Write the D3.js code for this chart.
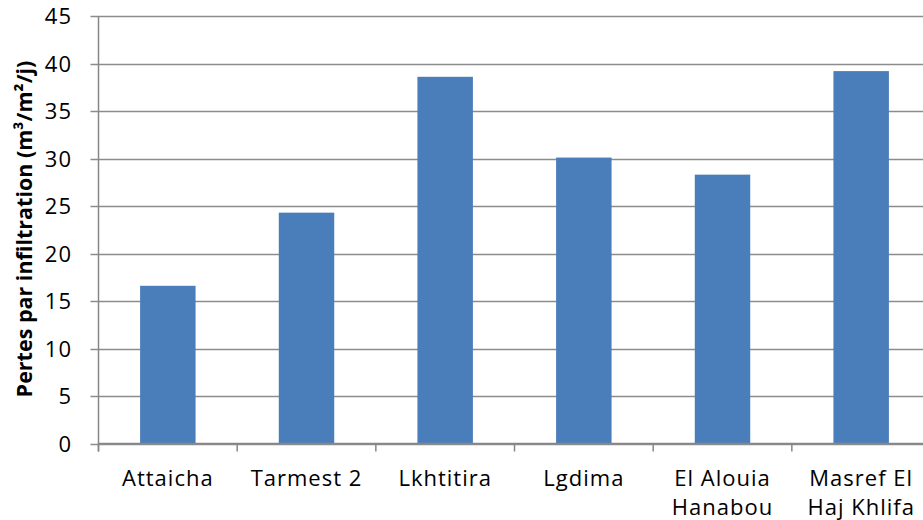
<!DOCTYPE html>
<html><head><meta charset="utf-8">
<script src="https://cdn.jsdelivr.net/npm/d3@7"></script>
<style>body{margin:0;background:#fff;overflow:hidden}svg{display:block}</style>
</head><body><svg id="c" width="923" height="520"></svg>
<script>
const categories = [["Attaicha"],["Tarmest 2"],["Lkhtitira"],["Lgdima"],["El Alouia","Hanabou"],["Masref El","Haj Khlifa"]];
const values = [16.6, 24.3, 38.6, 30.1, 28.3, 39.2];
const yTicks = [0,5,10,15,20,25,30,35,40,45];
const yTitle = "Pertes par infiltration (m³/m²/j)";

(function(){
const svg = d3.select("#c");
const mLeft = 98.5, mRight = 930.5, mTop = 16, mBottom = 443.5;
const font = "'Open Sans', sans-serif";
const x = d3.scaleBand().domain(d3.range(categories.length)).range([mLeft, mRight]).paddingInner(0.6).paddingOuter(0.3);
const y = d3.scaleLinear().domain([0,45]).range([mBottom, mTop]);

svg.append("g").selectAll("line").data(yTicks).join("line")
  .attr("x1", mLeft - 8).attr("x2", mRight)
  .attr("y1", d => Math.round(y(d)) + 0.5).attr("y2", d => Math.round(y(d)) + 0.5)
  .attr("stroke", "#8c8c8c").attr("stroke-width", 1.5);

svg.append("g").selectAll("rect").data(values).join("rect")
  .attr("x", (d,i) => x(i)).attr("width", x.bandwidth())
  .attr("y", d => y(d)).attr("height", d => mBottom - y(d))
  .attr("fill", "#4a7ebb");

svg.append("line").attr("x1", mLeft).attr("x2", mLeft).attr("y1", mTop).attr("y2", mBottom + 8)
  .attr("stroke", "#868686").attr("stroke-width", 1.5);
svg.append("line").attr("x1", mLeft).attr("x2", mRight).attr("y1", mBottom).attr("y2", mBottom)
  .attr("stroke", "#868686").attr("stroke-width", 1.5);
const step = x.step();
svg.append("g").selectAll("line").data(d3.range(categories.length + 1)).join("line")
  .attr("x1", i => mLeft + i * step).attr("x2", i => mLeft + i * step)
  .attr("y1", mBottom).attr("y2", mBottom + 8)
  .attr("stroke", "#868686").attr("stroke-width", 1.5);

svg.append("g").selectAll("text").data(yTicks).join("text")
  .attr("x", 72).attr("y", d => y(d) + 8)
  .attr("text-anchor", "end").attr("font-family", font).attr("font-size", 22)
  .attr("letter-spacing", 1)
  .attr("fill", "#000").text(d => d);

const xl = svg.append("g").selectAll("text").data(categories).join("text")
  .attr("text-anchor", "middle").attr("font-family", font).attr("font-size", 22).attr("fill", "#000")
  .attr("letter-spacing", 1)
  .attr("transform", (d,i) => `translate(${x(i) + x.bandwidth()/2},0)`);
xl.selectAll("tspan").data(d => d).join("tspan")
  .attr("x", 0).attr("y", (d,j) => 486 + j * 29).text(d => d);

svg.append("text").attr("transform", `translate(32,229) rotate(-90)`)
  .attr("text-anchor", "middle").attr("font-family", font).attr("font-weight", "bold")
  .attr("font-size", 21.5).attr("fill", "#000").text(yTitle);
})();
</script></body></html>
